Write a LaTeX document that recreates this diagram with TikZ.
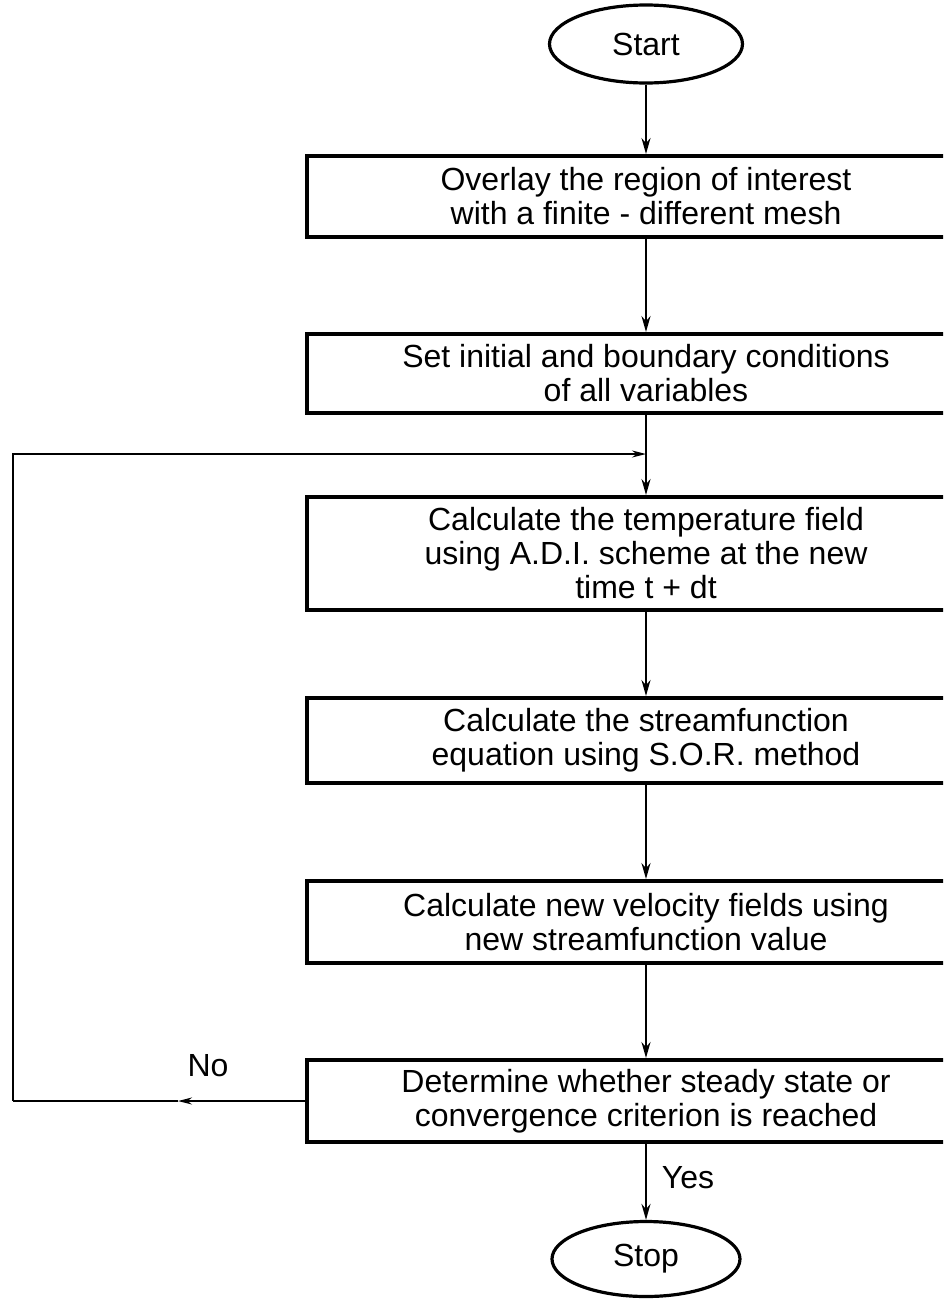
\documentclass[tikz,border=0pt]{standalone}
\usepackage{fontspec}
\setmainfont{Liberation Sans}
\usetikzlibrary{arrows.meta,shapes.geometric}
\begin{document}
\begin{tikzpicture}[x=1pt,y=-1pt,
  txt/.style={font=\fontsize{32}{34}\selectfont},
  box/.style={txt, draw, line width=4pt, minimum width=678pt, align=center, inner sep=0pt},
  term/.style={txt, draw, ellipse, line width=3.2pt, inner sep=0pt},
  conn/.style={line width=2pt},
  arr/.style={conn, -{Stealth[length=16pt,width=9pt]}},
  thinconn/.style={line width=1.6pt},
  thinarr/.style={thinconn, -{Stealth[length=14pt,width=7pt]}}]
\useasboundingbox (0,0) rectangle (943,1299);
\clip (0,0) rectangle (943,1299);

\node[term, minimum width=193pt, minimum height=78pt] (start) at (646,44) {Start};
\node[box, minimum height=81pt] (b1) at (646,196.5) {Overlay the region of interest\\ with a finite - different mesh};
\node[box, minimum height=79pt] (b2) at (646,373.5) {Set initial and boundary conditions\\of all variables};
\node[box, minimum height=113pt] (b3) at (646,553.5) {Calculate the temperature field\\using A.D.I. scheme at the new\\time t + dt};
\node[box, minimum height=85pt] (b4) at (646,740.5) {Calculate the streamfunction\\equation using S.O.R. method};
\node[box, minimum height=82pt] (b5) at (646,922) {Calculate new velocity fields using\\ new streamfunction value};
\node[box, minimum height=82pt] (b6) at (646,1101) {Determine whether steady state or\\convergence criterion is reached};
\node[term, minimum width=188pt, minimum height=75pt] (stop) at (646,1259) {Stop};

\node[txt] (no) at (208,1066) {No};
\node[txt] (yes) at (688,1178) {Yes};

\coordinate (j) at (646,454);
\coordinate (cl) at (13,454);
\coordinate (cb) at (13,1101);
\coordinate (mid) at (178,1101);

\draw[arr] (start) -- (b1);
\draw[arr] (b1) -- (b2);
\draw[conn] (b2) -- (j);
\draw[arr] (j) -- (b3);
\draw[arr] (b3) -- (b4);
\draw[arr] (b4) -- (b5);
\draw[arr] (b5) -- (b6);
\draw[arr] (b6) -- (stop);

\draw[thinarr] (b6.west) -- (mid);
\draw[thinconn] (mid) -- (cb);
\draw[thinarr] (cb) -- (cl) -- (j);
\end{tikzpicture}
\end{document}
